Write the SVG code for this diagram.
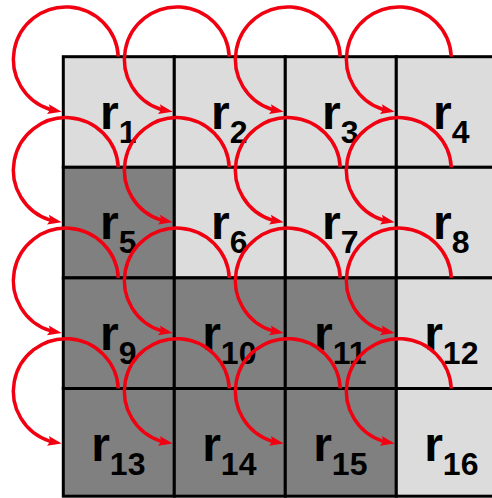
<svg xmlns="http://www.w3.org/2000/svg" width="492" height="498" viewBox="0 0 492 498">
<style>
.lt{fill:#dcdcdc;stroke:#000;stroke-width:3}
.dk{fill:#808080;stroke:#000;stroke-width:3}
.lb{font-family:"Liberation Sans",Arial,sans-serif;fill:#000;text-anchor:middle;font-weight:bold}
.r{font-size:48px}
.s{font-size:32px}
.ar{fill:none;stroke:#f00010;stroke-width:3.5;marker-end:url(#ah)}
</style>
<defs>
<marker id="ah" markerUnits="userSpaceOnUse" markerWidth="16" markerHeight="12" refX="6" refY="5" orient="auto" overflow="visible">
<path d="M0,0 L14,5 L0,10 L2.5,5 z" fill="#f00010"/>
</marker>
</defs>
<rect width="492" height="498" fill="#fff"/>
<g id="r1"><rect class="lt" x="63.3" y="56.7" width="111" height="110.6"/><text class="lb" x="118.3" y="128.7"><tspan class="r">r</tspan><tspan class="s" dy="14">1</tspan></text></g>
<g id="r2"><rect class="lt" x="174.3" y="56.7" width="111" height="110.6"/><text class="lb" x="229.3" y="128.7"><tspan class="r">r</tspan><tspan class="s" dy="14">2</tspan></text></g>
<g id="r3"><rect class="lt" x="285.3" y="56.7" width="111" height="110.6"/><text class="lb" x="340.3" y="128.7"><tspan class="r">r</tspan><tspan class="s" dy="14">3</tspan></text></g>
<g id="r4"><rect class="lt" x="396.3" y="56.7" width="111" height="110.6"/><text class="lb" x="451.3" y="128.7"><tspan class="r">r</tspan><tspan class="s" dy="14">4</tspan></text></g>
<g id="r5"><rect class="dk" x="63.3" y="167.3" width="111" height="110.6"/><text class="lb" x="118.3" y="239.3"><tspan class="r">r</tspan><tspan class="s" dy="14">5</tspan></text></g>
<g id="r6"><rect class="lt" x="174.3" y="167.3" width="111" height="110.6"/><text class="lb" x="229.3" y="239.3"><tspan class="r">r</tspan><tspan class="s" dy="14">6</tspan></text></g>
<g id="r7"><rect class="lt" x="285.3" y="167.3" width="111" height="110.6"/><text class="lb" x="340.3" y="239.3"><tspan class="r">r</tspan><tspan class="s" dy="14">7</tspan></text></g>
<g id="r8"><rect class="lt" x="396.3" y="167.3" width="111" height="110.6"/><text class="lb" x="451.3" y="239.3"><tspan class="r">r</tspan><tspan class="s" dy="14">8</tspan></text></g>
<g id="r9"><rect class="dk" x="63.3" y="277.9" width="111" height="110.6"/><text class="lb" x="118.3" y="349.9"><tspan class="r">r</tspan><tspan class="s" dy="14">9</tspan></text></g>
<g id="r10"><rect class="dk" x="174.3" y="277.9" width="111" height="110.6"/><text class="lb" x="229.3" y="349.9"><tspan class="r">r</tspan><tspan class="s" dy="14">10</tspan></text></g>
<g id="r11"><rect class="dk" x="285.3" y="277.9" width="111" height="110.6"/><text class="lb" x="340.3" y="349.9"><tspan class="r">r</tspan><tspan class="s" dy="14">11</tspan></text></g>
<g id="r12"><rect class="lt" x="396.3" y="277.9" width="111" height="110.6"/><text class="lb" x="451.3" y="349.9"><tspan class="r">r</tspan><tspan class="s" dy="14">12</tspan></text></g>
<g id="r13"><rect class="dk" x="63.3" y="388.5" width="111" height="107.7"/><text class="lb" x="118.3" y="460.5"><tspan class="r">r</tspan><tspan class="s" dy="14">13</tspan></text></g>
<g id="r14"><rect class="dk" x="174.3" y="388.5" width="111" height="107.7"/><text class="lb" x="229.3" y="460.5"><tspan class="r">r</tspan><tspan class="s" dy="14">14</tspan></text></g>
<g id="r15"><rect class="dk" x="285.3" y="388.5" width="111" height="107.7"/><text class="lb" x="340.3" y="460.5"><tspan class="r">r</tspan><tspan class="s" dy="14">15</tspan></text></g>
<g id="r16"><rect class="lt" x="396.3" y="388.5" width="111" height="107.7"/><text class="lb" x="451.3" y="460.5"><tspan class="r">r</tspan><tspan class="s" dy="14">16</tspan></text></g>
<g id="connectors">
<path class="ar" d="M118.3,56.7 A52.5,52.5 0 1 0 50.1,109.5 L53.84,110.21"/>
<path class="ar" d="M229.3,56.7 A52.5,52.5 0 1 0 161.1,109.5 L164.84,110.21"/>
<path class="ar" d="M340.3,56.7 A52.5,52.5 0 1 0 272.1,109.5 L275.84,110.21"/>
<path class="ar" d="M451.3,56.7 A52.5,52.5 0 1 0 383.1,109.5 L386.84,110.21"/>
<path class="ar" d="M118.3,167.3 A52.5,52.5 0 1 0 50.1,220.1 L53.84,220.81"/>
<path class="ar" d="M229.3,167.3 A52.5,52.5 0 1 0 161.1,220.1 L164.84,220.81"/>
<path class="ar" d="M340.3,167.3 A52.5,52.5 0 1 0 272.1,220.1 L275.84,220.81"/>
<path class="ar" d="M451.3,167.3 A52.5,52.5 0 1 0 383.1,220.1 L386.84,220.81"/>
<path class="ar" d="M118.3,277.9 A52.5,52.5 0 1 0 50.1,330.7 L53.84,331.41"/>
<path class="ar" d="M229.3,277.9 A52.5,52.5 0 1 0 161.1,330.7 L164.84,331.41"/>
<path class="ar" d="M340.3,277.9 A52.5,52.5 0 1 0 272.1,330.7 L275.84,331.41"/>
<path class="ar" d="M451.3,277.9 A52.5,52.5 0 1 0 383.1,330.7 L386.84,331.41"/>
<path class="ar" d="M118.3,388.5 A52.5,52.5 0 1 0 50.1,441.3 L53.84,442.01"/>
<path class="ar" d="M229.3,388.5 A52.5,52.5 0 1 0 161.1,441.3 L164.84,442.01"/>
<path class="ar" d="M340.3,388.5 A52.5,52.5 0 1 0 272.1,441.3 L275.84,442.01"/>
<path class="ar" d="M451.3,388.5 A52.5,52.5 0 1 0 383.1,441.3 L386.84,442.01"/>
</g>
</svg>
